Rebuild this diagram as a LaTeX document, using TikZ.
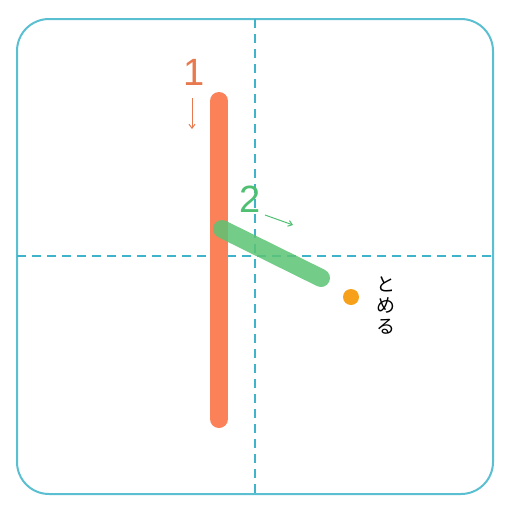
\documentclass[tikz,border=0pt]{standalone}
\usepackage{fontspec}
\setmainfont{Liberation Sans}
\newfontfamily\cjk{Noto Sans CJK JP}
\usetikzlibrary{arrows.meta}
\definecolor{frame}{HTML}{5BBFD2}
\definecolor{guide}{HTML}{3FB3C9}
\definecolor{strokeone}{HTML}{FA8158}
\definecolor{stroketwo}{HTML}{5CC475}
\definecolor{stopdot}{HTML}{F7A01A}
\definecolor{numone}{HTML}{E8794F}
\definecolor{numtwo}{HTML}{4FBF72}
\tikzset{
  guideline/.style={guide, line width=1.1pt, dash pattern=on 9pt off 6pt},
  brush/.style={line width=18pt, line cap=round},
  smallarrow/.style={line width=1pt, -{Straight Barb[length=4pt,width=6pt]}},
  num/.style={font=\fontsize{38}{38}\selectfont, inner sep=0pt}
}
\begin{document}
\begin{tikzpicture}[x=1pt,y=-1pt]
\useasboundingbox (0,0) rectangle (512,512);
\fill[white] (0,0) rectangle (512,512);
\draw[frame, line width=2pt, rounded corners=32pt] (17,19) rectangle (493,494);
\coordinate (vt) at (255,19);
\coordinate (vb) at (255,494);
\coordinate (hl) at (17,256);
\coordinate (hr) at (493,256);
\draw[guideline] (vt) -- (vb);
\draw[guideline] (hl) -- (hr);
\coordinate (s1a) at (219,101);
\coordinate (s1b) at (219,419);
\draw[brush, strokeone] (s1a) -- (s1b);
\coordinate (s2a) at (222,229);
\coordinate (s2b) at (321,278);
\draw[brush, stroketwo, opacity=0.85] (s2a) -- (s2b);
\node[circle, fill=stopdot, minimum size=16pt, inner sep=0pt] (dot) at (351,297) {};
\node[num, numone] (n1) at (194,72) {1};
\coordinate (a1s) at (192,98);
\coordinate (a1e) at (192,129);
\draw[smallarrow, numone] (a1s) -- (a1e);
\node[num, numtwo] (n2) at (250,199) {2};
\coordinate (a2s) at (265,215);
\coordinate (a2e) at (293,225);
\draw[smallarrow, numtwo] (a2s) -- (a2e);
\node[font=\cjk\fontsize{19}{21}\selectfont, align=center, inner sep=0pt] (tomeru) at (386,306) {と\\め\\る};
\end{tikzpicture}
\end{document}
